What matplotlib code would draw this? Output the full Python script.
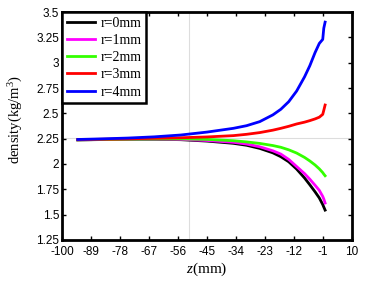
import matplotlib
matplotlib.use("Agg")
import matplotlib.pyplot as plt

plt.rcParams["mathtext.fontset"] = "custom"
plt.rcParams["mathtext.it"] = "Liberation Serif:italic"
plt.rcParams["mathtext.rm"] = "Liberation Serif"

z = [-94, -85, -75, -65, -55, -45, -35, -30, -25, -20, -17, -14, -11, -8, -6, -4, -2.4, -1.1, -0.7, -0.2]

r0 = [2.238, 2.241, 2.244, 2.244, 2.240, 2.226, 2.204, 2.185, 2.154, 2.110, 2.072, 2.022, 1.950, 1.862, 1.795, 1.725, 1.665, 1.600, 1.575, 1.545]
r1 = [2.238, 2.242, 2.245, 2.246, 2.243, 2.232, 2.214, 2.197, 2.170, 2.130, 2.098, 2.045, 1.975, 1.905, 1.850, 1.790, 1.740, 1.680, 1.655, 1.615]
r2 = [2.238, 2.242, 2.245, 2.247, 2.248, 2.243, 2.230, 2.218, 2.203, 2.182, 2.165, 2.140, 2.108, 2.065, 2.030, 1.990, 1.952, 1.915, 1.900, 1.884]
r3 = [2.240, 2.244, 2.248, 2.254, 2.259, 2.267, 2.280, 2.293, 2.310, 2.334, 2.352, 2.372, 2.395, 2.413, 2.428, 2.445, 2.462, 2.490, 2.530, 2.582]
r4 = [2.242, 2.248, 2.256, 2.268, 2.286, 2.315, 2.352, 2.378, 2.418, 2.485, 2.540, 2.615, 2.720, 2.860, 2.970, 3.100, 3.190, 3.230, 3.340, 3.400]

series = [("r=0mm", r0, "black"), ("r=1mm", r1, "#ff00ff"), ("r=2mm", r2, "#33ff00"),
          ("r=3mm", r3, "#ff0000"), ("r=4mm", r4, "#0000ff")]

xticks = [-100, -89, -78, -67, -56, -45, -34, -23, -12, -1, 10]
yticks = [1.25, 1.5, 1.75, 2, 2.25, 2.5, 2.75, 3, 3.25, 3.5]
yticklabels = ["1.25", "1.5", "1.75", "2", "2.25", "2.5", "2.75", "3", "3.25", "3.5"]

fig = plt.figure(figsize=(3.81, 2.82), dpi=100)
ax = fig.add_axes([62/381, 1 - 240/282, 290/381, 228/282])

ax.axvline(-52, color="#dddddd", lw=0.8, zorder=0)
ax.axhline(2.253, color="#dddddd", lw=0.8, zorder=0)

for name, vals, c in series:
    ax.plot(z, vals, color=c, lw=2, label=name)

ax.set_xlim(-100, 10)
ax.set_ylim(1.25, 3.5)
ax.set_xticks(xticks)
ax.set_xticklabels([str(t) for t in xticks])
ax.set_yticks(yticks)
ax.set_yticklabels(yticklabels)
ax.tick_params(direction="in", top=True, right=True, length=3, width=1,
               labelsize=8.5)
ax.tick_params(axis="x", pad=4)
ax.tick_params(axis="y", pad=2)
for lab in ax.get_xticklabels() + ax.get_yticklabels():
    lab.set_family("Liberation Sans")
for s in ax.spines.values():
    s.set_linewidth(2)

ax.set_xlabel(r"$z$(mm)", family="Liberation Serif", fontsize=11, labelpad=2)
ax.set_ylabel(r"density(kg/m$^3$)", family="Liberation Serif", fontsize=10.5)
ax.yaxis.set_label_coords(-0.128, 0.53)

leg = ax.legend(loc="upper left", prop={"family": "Liberation Serif", "size": 10},
                frameon=True, fancybox=False, borderaxespad=0, handlelength=2.0,
                labelspacing=0.3, borderpad=0.35, handletextpad=0.4)
leg.get_frame().set_edgecolor("black")
leg.get_frame().set_linewidth(1.8)
leg.get_frame().set_alpha(1)

fig.savefig("out.png", dpi=100)
